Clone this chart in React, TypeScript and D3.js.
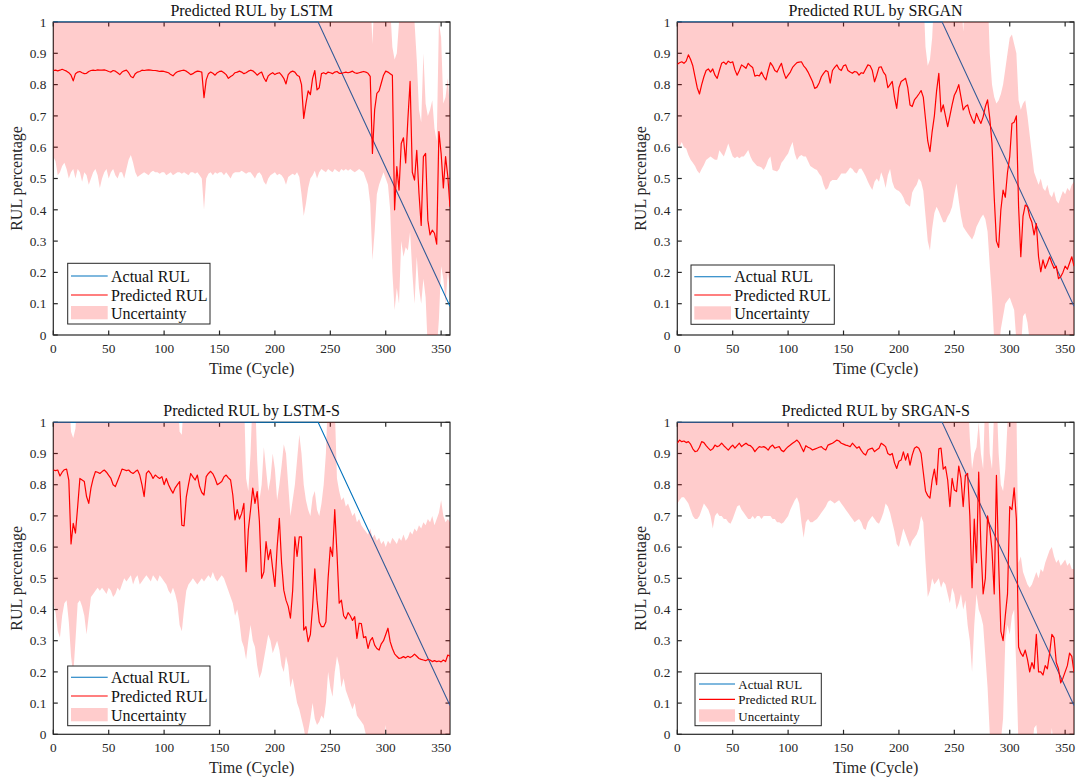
import React from "react";
import * as d3 from "d3";

// ---------------------------------------------------------------------------
// Shared styling
// ---------------------------------------------------------------------------
const FONT = "'Liberation Serif', 'Times New Roman', Times, serif";
const INK = "#262626";
const ACTUAL_COLOR = "#0072bd";
const PRED_COLOR = "#ff0000";
const BAND_SWATCH = "#ffcccc";

// ---------------------------------------------------------------------------
// Data
// ---------------------------------------------------------------------------
const CYCLE_STEP = 2;
const X_MAX = 358;
// Sampled cycles 0, 2, 4, ... 358
const CYCLES = d3.range(0, X_MAX + 1, CYCLE_STEP);

const X_TICKS = [0, 50, 100, 150, 200, 250, 300, 350];
const Y_TICKS = [0, 0.1, 0.2, 0.3, 0.4, 0.5, 0.6, 0.7, 0.8, 0.9, 1];
const Y_TICK_LABELS = ["0", "0.1", "0.2", "0.3", "0.4", "0.5", "0.6", "0.7", "0.8", "0.9", "1"];

// Ground-truth RUL (piecewise linear: flat, then linear degradation)
const ACTUAL_CYCLES = [0, 239, 358];
const ACTUAL_RUL = [1, 1, 0.092];

const LEGEND_LABELS = ["Actual RUL", "Predicted RUL", "Uncertainty"];

// ---- LSTM -----------------------------------------------------------------
const LSTM_PRED = [
  0.845, 0.846, 0.844, 0.846, 0.849, 0.846, 0.843, 0.838, 0.83, 0.812,
  0.835, 0.84, 0.842, 0.838, 0.835, 0.836, 0.842, 0.845, 0.846, 0.845,
  0.847, 0.846, 0.846, 0.847, 0.845, 0.842, 0.84, 0.845, 0.843, 0.838,
  0.832, 0.84, 0.844, 0.846, 0.838, 0.826, 0.822, 0.835, 0.84, 0.842,
  0.846, 0.845, 0.846, 0.847, 0.846, 0.845, 0.845, 0.844, 0.842, 0.843,
  0.842, 0.84, 0.838, 0.832, 0.828, 0.836, 0.841, 0.843, 0.845, 0.846,
  0.843, 0.838, 0.832, 0.835, 0.84, 0.843, 0.842, 0.84, 0.758, 0.815,
  0.835, 0.84, 0.836, 0.83, 0.838, 0.842, 0.843, 0.838, 0.832, 0.82,
  0.826, 0.83, 0.838, 0.84, 0.843, 0.84, 0.835, 0.838, 0.843, 0.846,
  0.844, 0.838, 0.83, 0.836, 0.84, 0.822, 0.81, 0.828, 0.834, 0.838,
  0.832, 0.836, 0.838, 0.83, 0.82, 0.802, 0.832, 0.84, 0.843, 0.84,
  0.83, 0.826, 0.8, 0.692, 0.74, 0.78, 0.768, 0.82, 0.845, 0.783,
  0.79, 0.835, 0.838, 0.834, 0.84, 0.838, 0.835, 0.84, 0.842, 0.836,
  0.836, 0.838, 0.84, 0.838, 0.84, 0.843, 0.838, 0.836, 0.838, 0.84,
  0.842, 0.84, 0.836, 0.826, 0.58, 0.72, 0.772, 0.78, 0.805, 0.83,
  0.843, 0.84, 0.835, 0.83, 0.4, 0.538, 0.463, 0.612, 0.63, 0.55,
  0.69, 0.81, 0.52, 0.495, 0.59, 0.453, 0.35, 0.57, 0.58, 0.367,
  0.32, 0.335, 0.325, 0.29, 0.65, 0.58, 0.47, 0.57, 0.507, 0.41,
];
const LSTM_LOWER = [
  0.57, 0.555, 0.51, 0.52, 0.54, 0.55, 0.53, 0.5, 0.52, 0.53,
  0.5, 0.53, 0.52, 0.49, 0.52, 0.51, 0.48, 0.5, 0.52, 0.53,
  0.51, 0.47, 0.5, 0.52, 0.53, 0.5, 0.52, 0.53, 0.51, 0.5,
  0.52, 0.52, 0.5, 0.53, 0.56, 0.575, 0.55, 0.52, 0.505, 0.51,
  0.515, 0.52, 0.515, 0.51, 0.52, 0.525, 0.52, 0.52, 0.515, 0.52,
  0.52, 0.51, 0.515, 0.52, 0.51, 0.515, 0.52, 0.52, 0.515, 0.52,
  0.515, 0.51, 0.52, 0.52, 0.515, 0.52, 0.51, 0.5, 0.4, 0.5,
  0.515, 0.52, 0.51, 0.52, 0.515, 0.52, 0.52, 0.51, 0.52, 0.51,
  0.5, 0.515, 0.52, 0.52, 0.52, 0.525, 0.52, 0.515, 0.52, 0.52,
  0.51, 0.5, 0.515, 0.52, 0.51, 0.49, 0.48, 0.5, 0.51, 0.515,
  0.52, 0.51, 0.515, 0.51, 0.5, 0.48, 0.505, 0.51, 0.515, 0.51,
  0.52, 0.505, 0.45, 0.38, 0.42, 0.47, 0.5, 0.51, 0.525, 0.5,
  0.52, 0.53, 0.525, 0.52, 0.53, 0.525, 0.52, 0.53, 0.525, 0.52,
  0.53, 0.525, 0.53, 0.525, 0.53, 0.525, 0.52, 0.525, 0.53, 0.525,
  0.52, 0.5, 0.48, 0.42, 0.24, 0.33, 0.45, 0.48, 0.5, 0.52,
  0.5, 0.48, 0.4, 0.2, 0.08, 0.15, 0.1, 0.3, 0.25, 0.28,
  0.27, 0.33, 0.2, 0.1, 0.25, 0.15, 0.1, 0.18, 0.12, -0.05,
  -0.05, -0.05, -0.1, -0.05, 0.05, 0.22, 0.18, 0.1, 0.2, 0.15,
];
const LSTM_UPPER = [
  1.1, 1.1, 1.1, 1.1, 1.1, 1.1, 1.1, 1.1, 1.1, 1.1,
  1.1, 1.1, 1.1, 1.1, 1.1, 1.1, 1.1, 1.1, 1.1, 1.1,
  1.1, 1.1, 1.1, 1.1, 1.1, 1.1, 1.1, 1.1, 1.1, 1.1,
  1.1, 1.1, 1.1, 1.1, 1.1, 1.1, 1.1, 1.1, 1.1, 1.1,
  1.1, 1.1, 1.1, 1.1, 1.1, 1.1, 1.1, 1.1, 1.1, 1.1,
  1.1, 1.1, 1.1, 1.1, 1.1, 1.1, 1.1, 1.1, 1.1, 1.1,
  1.1, 1.1, 1.1, 1.1, 1.1, 1.1, 1.1, 1.1, 1.1, 1.1,
  1.1, 1.1, 1.1, 1.1, 1.1, 1.1, 1.1, 1.1, 1.1, 1.1,
  1.1, 1.1, 1.1, 1.1, 1.1, 1.1, 1.1, 1.1, 1.1, 1.1,
  1.1, 1.1, 1.1, 1.1, 1.1, 1.1, 1.1, 1.1, 1.1, 1.1,
  1.1, 1.1, 1.1, 1.1, 1.1, 1.1, 1.1, 1.1, 1.1, 1.1,
  1.1, 1.1, 1.1, 1.1, 1.1, 1.1, 1.1, 1.1, 1.1, 1.1,
  1.1, 1.1, 1.1, 1.1, 1.1, 1.1, 1.1, 1.1, 1.1, 1.1,
  1.1, 1.1, 1.1, 1.1, 1.1, 1.1, 1.1, 1.1, 1.1, 1.1,
  1.1, 1.1, 1.1, 1.1, 0.93, 1.1, 1.1, 1.1, 1.1, 1.1,
  1.1, 1.1, 1.05, 0.92, 0.88, 0.9, 1.0, 1.1, 1.1, 1.1,
  1.1, 1.1, 1.1, 1.0, 0.88, 0.72, 0.68, 0.9, 0.74, 0.7,
  0.72, 0.75, 0.66, 0.62, 1.0, 0.95, 0.74, 0.76, 0.82, 0.72,
];

// ---- SRGAN ----------------------------------------------------------------
const SRGAN_PRED = [
  0.865, 0.87, 0.873, 0.868, 0.875, 0.895, 0.88, 0.86, 0.825, 0.79,
  0.77, 0.8, 0.825, 0.845, 0.85, 0.84, 0.85, 0.83, 0.82, 0.845,
  0.868, 0.872, 0.865, 0.875, 0.87, 0.873, 0.847, 0.83, 0.845, 0.863,
  0.858, 0.852, 0.868, 0.86, 0.855, 0.827, 0.83, 0.828, 0.84, 0.825,
  0.815, 0.845, 0.87, 0.86, 0.845, 0.84, 0.855, 0.868, 0.84, 0.82,
  0.83, 0.84, 0.855, 0.863, 0.87, 0.872, 0.873, 0.86, 0.852, 0.84,
  0.825, 0.81, 0.788, 0.792, 0.805, 0.825, 0.836, 0.845, 0.841, 0.805,
  0.845, 0.855, 0.863, 0.85, 0.845, 0.86, 0.863, 0.845, 0.84, 0.836,
  0.842, 0.84, 0.83, 0.838, 0.836, 0.85, 0.863, 0.86, 0.845, 0.809,
  0.83, 0.855, 0.857, 0.84, 0.83, 0.79, 0.8, 0.81, 0.76, 0.724,
  0.79, 0.81, 0.815, 0.82, 0.79, 0.735, 0.73, 0.751, 0.76, 0.77,
  0.781, 0.76, 0.69, 0.62, 0.586, 0.65, 0.7, 0.78, 0.836, 0.713,
  0.735, 0.7, 0.666, 0.7, 0.735, 0.766, 0.78, 0.8, 0.76, 0.719,
  0.73, 0.735, 0.708, 0.69, 0.676, 0.708, 0.69, 0.676, 0.697, 0.73,
  0.751, 0.692, 0.612, 0.44, 0.3, 0.28, 0.4, 0.463, 0.44, 0.52,
  0.57, 0.676, 0.68, 0.7, 0.41, 0.25, 0.38, 0.415, 0.41, 0.378,
  0.36, 0.32, 0.356, 0.25, 0.202, 0.24, 0.213, 0.23, 0.25, 0.23,
  0.213, 0.22, 0.18, 0.186, 0.2, 0.22, 0.21, 0.23, 0.25, 0.22,
];
const SRGAN_LOWER = [
  0.612, 0.6, 0.617, 0.6, 0.596, 0.575, 0.56, 0.55, 0.54, 0.525,
  0.516, 0.53, 0.543, 0.559, 0.565, 0.57, 0.565, 0.56, 0.56, 0.59,
  0.58, 0.57, 0.59, 0.612, 0.59, 0.57, 0.565, 0.57, 0.565, 0.57,
  0.57, 0.58, 0.591, 0.57, 0.556, 0.548, 0.54, 0.538, 0.535, 0.527,
  0.54, 0.56, 0.57, 0.527, 0.525, 0.522, 0.53, 0.55, 0.559, 0.57,
  0.58, 0.6, 0.617, 0.58, 0.559, 0.57, 0.575, 0.57, 0.57, 0.555,
  0.54, 0.535, 0.53, 0.527, 0.515, 0.506, 0.48, 0.463, 0.47, 0.49,
  0.495, 0.495, 0.495, 0.505, 0.516, 0.516, 0.516, 0.525, 0.535, 0.53,
  0.52, 0.516, 0.53, 0.532, 0.52, 0.506, 0.49, 0.475, 0.463, 0.49,
  0.5, 0.49, 0.52, 0.5, 0.47, 0.51, 0.53, 0.49, 0.47, 0.463,
  0.46, 0.452, 0.44, 0.421, 0.415, 0.41, 0.455, 0.47, 0.48, 0.5,
  0.49, 0.46, 0.38, 0.3, 0.27, 0.34, 0.39, 0.41, 0.395, 0.378,
  0.36, 0.36, 0.378, 0.39, 0.41, 0.45, 0.484, 0.43, 0.38, 0.346,
  0.335, 0.324, 0.315, 0.305, 0.32, 0.346, 0.36, 0.375, 0.385, 0.37,
  0.33, 0.22, 0.12, -0.02, -0.1, -0.05, 0.02, 0.06, 0.1, 0.11,
  0.12, 0.1, 0.08, -0.02, -0.1, -0.05, 0.06, 0.07, 0.04, -0.02,
  -0.05, -0.08, -0.05, -0.1, -0.06, -0.08, -0.1, -0.05, -0.08, -0.1,
  -0.06, -0.1, -0.05, -0.08, -0.1, -0.06, -0.08, -0.1, -0.05, -0.08,
];
const SRGAN_UPPER = [
  1.1, 1.1, 1.1, 1.1, 1.1, 1.1, 1.1, 1.1, 1.1, 1.1,
  1.1, 1.1, 1.1, 1.1, 1.1, 1.1, 1.1, 1.1, 1.1, 1.1,
  1.1, 1.1, 1.1, 1.1, 1.1, 1.1, 1.1, 1.1, 1.1, 1.1,
  1.1, 1.1, 1.1, 1.1, 1.1, 1.1, 1.1, 1.1, 1.1, 1.1,
  1.1, 1.1, 1.1, 1.1, 1.1, 1.1, 1.1, 1.1, 1.1, 1.1,
  1.1, 1.1, 1.1, 1.1, 1.1, 1.1, 1.1, 1.1, 1.1, 1.1,
  1.1, 1.1, 1.1, 1.1, 1.1, 1.1, 1.1, 1.1, 1.1, 1.1,
  1.1, 1.1, 1.1, 1.1, 1.1, 1.1, 1.1, 1.1, 1.1, 1.1,
  1.1, 1.1, 1.1, 1.1, 1.1, 1.1, 1.1, 1.1, 1.1, 1.1,
  1.1, 1.1, 1.1, 1.1, 1.1, 1.1, 1.1, 1.1, 1.1, 1.1,
  1.1, 1.1, 1.1, 1.1, 1.1, 1.1, 1.1, 1.1, 1.1, 1.1,
  1.1, 1.1, 0.92, 0.86, 0.88, 0.95, 1.1, 1.1, 1.1, 1.1,
  1.1, 1.1, 1.1, 1.1, 1.1, 1.1, 1.1, 1.1, 1.1, 0.97,
  1.1, 1.1, 1.1, 1.1, 1.1, 1.1, 1.1, 1.1, 1.1, 1.1,
  1.1, 0.9, 0.8, 0.76, 0.74, 0.75, 0.77, 0.8, 0.85, 0.9,
  0.95, 0.96, 0.93, 0.9, 0.75, 0.72, 0.74, 0.75, 0.7, 0.64,
  0.58, 0.52, 0.5, 0.48, 0.5, 0.47, 0.46, 0.48, 0.45, 0.44,
  0.46, 0.43, 0.42, 0.44, 0.46, 0.45, 0.47, 0.46, 0.48, 0.49,
];

// ---- LSTM-S ---------------------------------------------------------------
const LSTM_S_PRED = [
  0.847, 0.845, 0.847, 0.828, 0.84, 0.848, 0.85, 0.815, 0.61, 0.676,
  0.645, 0.73, 0.82, 0.815, 0.81, 0.762, 0.74, 0.79, 0.82, 0.842,
  0.84, 0.836, 0.842, 0.847, 0.84, 0.83, 0.82, 0.8, 0.794, 0.812,
  0.83, 0.85, 0.848, 0.845, 0.847, 0.84, 0.836, 0.842, 0.847, 0.831,
  0.8, 0.762, 0.836, 0.844, 0.835, 0.82, 0.831, 0.825, 0.82, 0.826,
  0.8, 0.82, 0.8, 0.785, 0.773, 0.79, 0.8, 0.81, 0.67, 0.668,
  0.76, 0.8, 0.836, 0.825, 0.815, 0.831, 0.794, 0.775, 0.767, 0.826,
  0.836, 0.843, 0.835, 0.82, 0.8, 0.805, 0.81, 0.825, 0.831, 0.822,
  0.815, 0.767, 0.687, 0.72, 0.69, 0.708, 0.74, 0.521, 0.655, 0.719,
  0.789, 0.74, 0.778, 0.682, 0.5, 0.52, 0.618, 0.56, 0.592, 0.53,
  0.474, 0.6, 0.692, 0.55, 0.462, 0.43, 0.41, 0.372, 0.46, 0.633,
  0.57, 0.633, 0.633, 0.334, 0.345, 0.297, 0.32, 0.409, 0.53, 0.43,
  0.36, 0.345, 0.345, 0.36, 0.5, 0.6, 0.57, 0.72, 0.58, 0.42,
  0.43, 0.38, 0.37, 0.39, 0.38, 0.365, 0.377, 0.307, 0.356, 0.355,
  0.31, 0.313, 0.275, 0.3, 0.31, 0.286, 0.275, 0.27, 0.29, 0.3,
  0.32, 0.34, 0.297, 0.275, 0.258, 0.25, 0.243, 0.245, 0.249, 0.245,
  0.25, 0.246, 0.25, 0.257, 0.25, 0.243, 0.24, 0.238, 0.236, 0.24,
  0.238, 0.233, 0.236, 0.233, 0.235, 0.232, 0.238, 0.233, 0.254, 0.25,
];
const LSTM_S_LOWER = [
  0.42, 0.39, 0.33, 0.31, 0.38, 0.42, 0.43, 0.36, 0.25, 0.19,
  0.3, 0.42, 0.43, 0.41, 0.38, 0.32, 0.38, 0.44, 0.45, 0.46,
  0.47, 0.46, 0.47, 0.46, 0.45, 0.47, 0.46, 0.44, 0.45, 0.47,
  0.46, 0.48, 0.5, 0.49, 0.5, 0.51, 0.48, 0.5, 0.51, 0.48,
  0.49, 0.5, 0.51, 0.5, 0.49, 0.51, 0.5, 0.49, 0.51, 0.5,
  0.49, 0.48, 0.46, 0.45, 0.47, 0.45, 0.42, 0.35, 0.33, 0.4,
  0.46, 0.48, 0.49, 0.5, 0.49, 0.48, 0.49, 0.5, 0.49, 0.5,
  0.51, 0.5, 0.52, 0.5, 0.49, 0.5, 0.51, 0.5, 0.48, 0.46,
  0.44, 0.42, 0.38, 0.4, 0.36, 0.3, 0.28, 0.24, 0.3, 0.35,
  0.3, 0.28, 0.22, 0.18, 0.2, 0.24, 0.28, 0.32, 0.3, 0.26,
  0.28, 0.3, 0.27, 0.22, 0.2, 0.25, 0.22, 0.15, 0.18, 0.14,
  0.1, 0.08, 0.05, 0.02, -0.02, 0.01, 0.05, 0.1, 0.05, 0.03,
  0.04, 0.06, 0.05, 0.1, 0.2, 0.15, 0.12, 0.2, 0.25, 0.22,
  0.15, 0.18, 0.14, 0.12, 0.1, 0.08, 0.1, 0.06, 0.05, 0.04,
  0.03, 0.0, -0.02, -0.05, -0.05, -0.08, -0.05, -0.06, -0.08, -0.05,
  0.03, -0.05, -0.08, -0.05, -0.06, -0.08, -0.05, -0.08, -0.06, -0.05,
  -0.05, -0.08, -0.06, -0.05, -0.08, -0.06, -0.05, -0.08, -0.06, -0.05,
  -0.05, -0.08, -0.06, -0.05, -0.08, -0.06, -0.05, -0.08, -0.06, -0.05,
];
const LSTM_S_UPPER = [
  1.1, 1.1, 1.1, 1.1, 1.1, 1.1, 1.1, 1.1, 0.97, 0.95,
  0.98, 1.1, 1.1, 1.1, 1.1, 1.1, 1.1, 1.1, 1.1, 1.1,
  1.1, 1.1, 1.1, 1.1, 1.1, 1.1, 1.1, 1.1, 1.1, 1.1,
  1.1, 1.1, 1.1, 1.1, 1.1, 1.1, 1.1, 1.1, 1.1, 1.1,
  1.1, 1.1, 1.1, 1.1, 1.1, 1.1, 1.1, 1.1, 1.1, 1.1,
  1.1, 1.1, 1.1, 1.1, 1.1, 1.1, 1.1, 0.97, 0.96, 1.1,
  1.1, 1.1, 1.1, 1.1, 1.1, 1.1, 1.1, 1.1, 1.1, 1.1,
  1.1, 1.1, 1.1, 1.1, 1.1, 1.1, 1.1, 1.1, 1.1, 1.1,
  1.1, 1.1, 1.1, 1.1, 1.1, 1.1, 1.1, 0.82, 0.78, 0.9,
  1.1, 1.1, 0.88, 0.75, 0.8, 0.92, 0.85, 0.78, 0.82, 0.9,
  0.85, 0.75, 0.8, 0.86, 0.93, 0.9, 0.8, 0.7, 0.75, 0.8,
  0.88, 0.96, 0.9, 0.8, 0.75, 0.72, 0.7, 0.76, 0.78, 0.72,
  0.7, 0.74, 0.8, 0.9, 1.1, 1.1, 1.1, 1.05, 0.82, 0.78,
  0.75, 0.76, 0.73, 0.74, 0.72, 0.7, 0.71, 0.68, 0.69, 0.67,
  0.66, 0.65, 0.64, 0.66, 0.63, 0.64, 0.62, 0.63, 0.61, 0.62,
  0.6, 0.62, 0.61, 0.63, 0.62, 0.61, 0.63, 0.62, 0.64, 0.62,
  0.63, 0.65, 0.64, 0.66, 0.65, 0.67, 0.66, 0.68, 0.67, 0.69,
  0.68, 0.7, 0.67, 0.69, 0.71, 0.75, 0.7, 0.68, 0.69, 0.68,
];

// ---- SRGAN-S --------------------------------------------------------------
const SRGAN_S_PRED = [
  0.933, 0.943, 0.938, 0.94, 0.935, 0.938, 0.93, 0.915, 0.906, 0.908,
  0.92, 0.938, 0.935, 0.925, 0.917, 0.91, 0.915, 0.927, 0.922, 0.925,
  0.933, 0.925, 0.918, 0.911, 0.92, 0.927, 0.917, 0.925, 0.933, 0.922,
  0.928, 0.933, 0.927, 0.925, 0.918, 0.906, 0.915, 0.922, 0.92, 0.922,
  0.918, 0.911, 0.922, 0.927, 0.917, 0.92, 0.922, 0.91, 0.906, 0.915,
  0.922, 0.927, 0.933, 0.938, 0.943, 0.935, 0.92, 0.906, 0.925, 0.92,
  0.917, 0.911, 0.914, 0.917, 0.92, 0.922, 0.915, 0.911, 0.927, 0.93,
  0.933, 0.938, 0.943, 0.94, 0.933, 0.93, 0.927, 0.925, 0.922, 0.933,
  0.925, 0.917, 0.922, 0.91, 0.9, 0.895, 0.911, 0.915, 0.917, 0.906,
  0.912, 0.917, 0.933, 0.928, 0.922, 0.9, 0.895, 0.9, 0.87, 0.852,
  0.875, 0.879, 0.905, 0.879, 0.9, 0.863, 0.895, 0.917, 0.922, 0.917,
  0.9, 0.84, 0.78, 0.765, 0.757, 0.815, 0.85, 0.8, 0.915, 0.917,
  0.85, 0.858, 0.815, 0.73, 0.82, 0.783, 0.778, 0.86, 0.82, 0.73,
  0.83, 0.836, 0.7, 0.47, 0.69, 0.55, 0.84, 0.6, 0.45, 0.5,
  0.7, 0.66, 0.59, 0.45, 0.83, 0.55, 0.33, 0.3, 0.38, 0.45,
  0.73, 0.72, 0.79, 0.69, 0.28, 0.26, 0.25, 0.27, 0.24, 0.2,
  0.23, 0.21, 0.32, 0.2, 0.2, 0.19, 0.22, 0.21, 0.26, 0.32,
  0.31, 0.23, 0.21, 0.165, 0.18, 0.2, 0.22, 0.26, 0.25, 0.2,
];
const SRGAN_S_LOWER = [
  0.74, 0.75, 0.76, 0.76, 0.75, 0.74, 0.72, 0.7, 0.69, 0.69,
  0.7, 0.72, 0.74, 0.73, 0.72, 0.7, 0.66, 0.7, 0.71, 0.7,
  0.7, 0.69, 0.69, 0.68, 0.675, 0.69, 0.71, 0.73, 0.735, 0.72,
  0.71, 0.7, 0.69, 0.69, 0.7, 0.69, 0.7, 0.7, 0.69, 0.7,
  0.7, 0.7, 0.7, 0.69, 0.69, 0.68, 0.68, 0.675, 0.68, 0.69,
  0.7, 0.72, 0.735, 0.75, 0.76, 0.74, 0.68, 0.63, 0.68, 0.69,
  0.68, 0.68, 0.685, 0.69, 0.7, 0.71, 0.72, 0.73, 0.745, 0.75,
  0.745, 0.74, 0.745, 0.75, 0.74, 0.73, 0.72, 0.71, 0.7, 0.69,
  0.68, 0.685, 0.69, 0.68, 0.66, 0.655, 0.68, 0.69, 0.7, 0.69,
  0.68, 0.675, 0.69, 0.71, 0.74, 0.73, 0.71, 0.68, 0.65, 0.61,
  0.6, 0.63, 0.66, 0.64, 0.62, 0.6, 0.62, 0.63, 0.64, 0.66,
  0.7, 0.68, 0.55, 0.44, 0.46, 0.5, 0.48, 0.49, 0.5, 0.47,
  0.49, 0.48, 0.45, 0.42, 0.47, 0.45, 0.4, 0.42, 0.45, 0.4,
  0.43, 0.35, 0.3, 0.2, 0.35, 0.45, 0.4, 0.38, 0.35, 0.25,
  0.15, 0.0, -0.05, -0.05, -0.05, -0.05, -0.02, 0.05, 0.3, 0.35,
  0.32, 0.38, 0.4, 0.2, -0.05, -0.08, -0.05, -0.06, -0.08, -0.05,
  -0.06, 0.02, 0.03, -0.05, -0.08, -0.06, -0.05, -0.08, -0.06, 0.02,
  -0.05, -0.08, -0.06, -0.05, -0.08, -0.06, -0.05, -0.08, -0.06, -0.05,
];
const SRGAN_S_UPPER = [
  1.1, 1.1, 1.1, 1.1, 1.1, 1.1, 1.1, 1.1, 1.1, 1.1,
  1.1, 1.1, 1.1, 1.1, 1.1, 1.1, 1.1, 1.1, 1.1, 1.1,
  1.1, 1.1, 1.1, 1.1, 1.1, 1.1, 1.1, 1.1, 1.1, 1.1,
  1.1, 1.1, 1.1, 1.1, 1.1, 1.1, 1.1, 1.1, 1.1, 1.1,
  1.1, 1.1, 1.1, 1.1, 1.1, 1.1, 1.1, 1.1, 1.1, 1.1,
  1.1, 1.1, 1.1, 1.1, 1.1, 1.1, 1.1, 1.1, 1.1, 1.1,
  1.1, 1.1, 1.1, 1.1, 1.1, 1.1, 1.1, 1.1, 1.1, 1.1,
  1.1, 1.1, 1.1, 1.1, 1.1, 1.1, 1.1, 1.1, 1.1, 1.1,
  1.1, 1.1, 1.1, 1.1, 1.1, 1.1, 1.1, 1.1, 1.1, 1.1,
  1.1, 1.1, 1.1, 1.1, 1.1, 1.1, 1.1, 1.1, 1.1, 1.1,
  1.1, 1.1, 1.1, 1.1, 1.1, 1.1, 1.1, 1.1, 1.1, 1.1,
  1.1, 1.1, 1.1, 1.1, 1.1, 1.1, 1.1, 1.1, 1.1, 1.1,
  1.1, 1.1, 1.1, 1.1, 1.1, 1.1, 1.1, 1.1, 1.1, 1.1,
  1.1, 1.1, 0.95, 0.85, 0.9, 0.92, 1.0, 0.9, 0.85, 1.1,
  1.1, 0.9, 0.85, 1.05, 1.1, 0.9, 0.8, 0.78, 0.85, 1.0,
  1.1, 1.1, 1.1, 1.05, 0.55, 0.57, 0.52, 0.5, 0.48, 0.47,
  0.48, 0.5, 0.52, 0.5, 0.53, 0.52, 0.55, 0.57, 0.59, 0.6,
  0.57, 0.55, 0.56, 0.54, 0.55, 0.56, 0.54, 0.55, 0.53, 0.53,
];

// ---------------------------------------------------------------------------
// Panel
// ---------------------------------------------------------------------------
type Box = { left: number; right: number; top: number; bottom: number };
type LegendSpec = {
  x: number;
  y: number;
  w: number;
  h: number;
  font: number;
  rows: number[];
  lineX0: number;
  lineX1: number;
  textX: number;
  patchUp: number;
  patchDown: number;
};

type PanelProps = {
  id: string;
  box: Box;
  title: string;
  pred: number[];
  lower: number[];
  upper: number[];
  legend: LegendSpec;
};

function Panel({ id, box, title, pred, lower, upper, legend }: PanelProps) {
  const x = d3.scaleLinear().domain([0, X_MAX]).range([box.left, box.right]);
  const y = d3.scaleLinear().domain([0, 1]).range([box.bottom, box.top]);

  const predLine = d3
    .line<number>()
    .x((_, i) => x(CYCLES[i]))
    .y((d) => y(d));
  const actualLine = d3
    .line<number>()
    .x((_, i) => x(ACTUAL_CYCLES[i]))
    .y((d) => y(d));
  const band = d3
    .area<number>()
    .x((_, i) => x(CYCLES[i]))
    .y0((_, i) => y(lower[i]))
    .y1((_, i) => y(upper[i]));

  const tickLen = 4.5;
  const clipId = `clip-${id}`;
  const lineClipId = `lineclip-${id}`;
  const cx = (box.left + box.right) / 2;
  const cy = (box.top + box.bottom) / 2;
  const baseOff = legend.font * 0.35;

  return (
    <g>
      <defs>
        <clipPath id={clipId}>
          <rect x={box.left} y={box.top} width={box.right - box.left} height={box.bottom - box.top} />
        </clipPath>
        <clipPath id={lineClipId}>
          <rect x={box.left} y={box.top - 1} width={box.right - box.left} height={box.bottom - box.top + 2} />
        </clipPath>
      </defs>

      {/* axes box and inward ticks on all four sides */}
      <rect
        x={box.left}
        y={box.top}
        width={box.right - box.left}
        height={box.bottom - box.top}
        fill="none"
        stroke={INK}
        strokeWidth={1.2}
      />
      {X_TICKS.map((t) => (
        <g key={`xt${t}`} stroke={INK} strokeWidth={1.2}>
          <line x1={x(t)} x2={x(t)} y1={box.bottom} y2={box.bottom - tickLen} />
          <line x1={x(t)} x2={x(t)} y1={box.top} y2={box.top + tickLen} />
        </g>
      ))}
      {Y_TICKS.map((t) => (
        <g key={`yt${t}`} stroke={INK} strokeWidth={1.2}>
          <line x1={box.left} x2={box.left + tickLen} y1={y(t)} y2={y(t)} />
          <line x1={box.right} x2={box.right - tickLen} y1={y(t)} y2={y(t)} />
        </g>
      ))}

      {/* data */}
      <g clipPath={`url(#${lineClipId})`}>
        <path d={actualLine(ACTUAL_RUL) ?? ""} fill="none" stroke={ACTUAL_COLOR} strokeWidth={1.1} />
        <path d={predLine(pred) ?? ""} fill="none" stroke={PRED_COLOR} strokeWidth={1.2} strokeLinejoin="round" />
      </g>
      <g clipPath={`url(#${clipId})`}>
        <path d={band(pred) ?? ""} fill={PRED_COLOR} fillOpacity={0.2} stroke="none" />
      </g>

      {/* tick labels */}
      {X_TICKS.map((t) => (
        <text
          key={`xl${t}`}
          x={x(t)}
          y={box.bottom + 17.7}
          textAnchor="middle"
          fontFamily={FONT}
          fontSize={13.3}
          fill={INK}
        >
          {t}
        </text>
      ))}
      {Y_TICKS.map((t, i) => (
        <text
          key={`yl${t}`}
          x={box.left - 7}
          y={y(t) + 4.7}
          textAnchor="end"
          fontFamily={FONT}
          fontSize={13.3}
          fill={INK}
        >
          {Y_TICK_LABELS[i]}
        </text>
      ))}

      {/* titles */}
      <text x={cx} y={box.top - 6} textAnchor="middle" fontFamily={FONT} fontSize={16} fill="#111">
        {title}
      </text>
      <text x={cx} y={box.bottom + 39} textAnchor="middle" fontFamily={FONT} fontSize={16} fill={INK}>
        Time (Cycle)
      </text>
      <text
        transform={`translate(${box.left - 31.5},${cy}) rotate(-90)`}
        textAnchor="middle"
        fontFamily={FONT}
        fontSize={16}
        fill={INK}
      >
        RUL percentage
      </text>

      {/* legend */}
      <g>
        <rect x={legend.x} y={legend.y} width={legend.w} height={legend.h} fill="#fff" stroke={INK} strokeWidth={1} />
        <line
          x1={legend.x + legend.lineX0}
          x2={legend.x + legend.lineX1}
          y1={legend.y + legend.rows[0]}
          y2={legend.y + legend.rows[0]}
          stroke={ACTUAL_COLOR}
          strokeWidth={1.1}
        />
        <line
          x1={legend.x + legend.lineX0}
          x2={legend.x + legend.lineX1}
          y1={legend.y + legend.rows[1]}
          y2={legend.y + legend.rows[1]}
          stroke={PRED_COLOR}
          strokeWidth={1.2}
        />
        <rect
          x={legend.x + legend.lineX0}
          y={legend.y + legend.rows[2] - legend.patchUp}
          width={legend.lineX1 - legend.lineX0}
          height={legend.patchUp + legend.patchDown}
          fill={BAND_SWATCH}
        />
        {LEGEND_LABELS.map((label, i) => (
          <text
            key={label}
            x={legend.x + legend.textX}
            y={legend.y + legend.rows[i] + baseOff}
            fontFamily={FONT}
            fontSize={legend.font}
            fill="#111"
          >
            {label}
          </text>
        ))}
      </g>
    </g>
  );
}

// ---------------------------------------------------------------------------
// Layout
// ---------------------------------------------------------------------------
const BIG_LEGEND = { font: 16, lineX0: 3.3, lineX1: 40, textX: 43.3, patchUp: 7, patchDown: 6.3 };
const SMALL_LEGEND = { font: 13, lineX0: 4, lineX1: 40, textX: 43.3, patchUp: 6.7, patchDown: 5.7 };

const PANELS: PanelProps[] = [
  {
    id: "lstm",
    box: { left: 53.3, right: 450, top: 22, bottom: 335 },
    title: "Predicted RUL by LSTM",
    pred: LSTM_PRED,
    lower: LSTM_LOWER,
    upper: LSTM_UPPER,
    legend: { x: 67.7, y: 263.3, w: 142.3, h: 60.7, rows: [12.7, 31.7, 49.7], ...BIG_LEGEND },
  },
  {
    id: "srgan",
    box: { left: 677.3, right: 1074, top: 22, bottom: 335 },
    title: "Predicted RUL by SRGAN",
    pred: SRGAN_PRED,
    lower: SRGAN_LOWER,
    upper: SRGAN_UPPER,
    legend: { x: 691, y: 265, w: 143.3, h: 59.3, rows: [11.7, 30, 48.3], ...BIG_LEGEND },
  },
  {
    id: "lstms",
    box: { left: 53.3, right: 450, top: 422.3, bottom: 734.3 },
    title: "Predicted RUL by LSTM-S",
    pred: LSTM_S_PRED,
    lower: LSTM_S_LOWER,
    upper: LSTM_S_UPPER,
    legend: { x: 67.7, y: 666, w: 142.3, h: 59.7, rows: [11.3, 30, 49], ...BIG_LEGEND },
  },
  {
    id: "srgans",
    box: { left: 677.3, right: 1074, top: 422.3, bottom: 734.3 },
    title: "Predicted RUL by SRGAN-S",
    pred: SRGAN_S_PRED,
    lower: SRGAN_S_LOWER,
    upper: SRGAN_S_UPPER,
    legend: { x: 695, y: 673.3, w: 126.3, h: 52.4, rows: [10.7, 26, 42.7], ...SMALL_LEGEND },
  },
];

export default function App() {
  return (
    <svg
      width={1078}
      height={782}
      viewBox="0 0 1078 782"
      style={{ position: "absolute", left: 0, top: 0, background: "#fff" }}
    >
      <rect x={0} y={0} width={1078} height={782} fill="#fff" />
      {PANELS.map((p) => (
        <Panel key={p.id} {...p} />
      ))}
    </svg>
  );
}
